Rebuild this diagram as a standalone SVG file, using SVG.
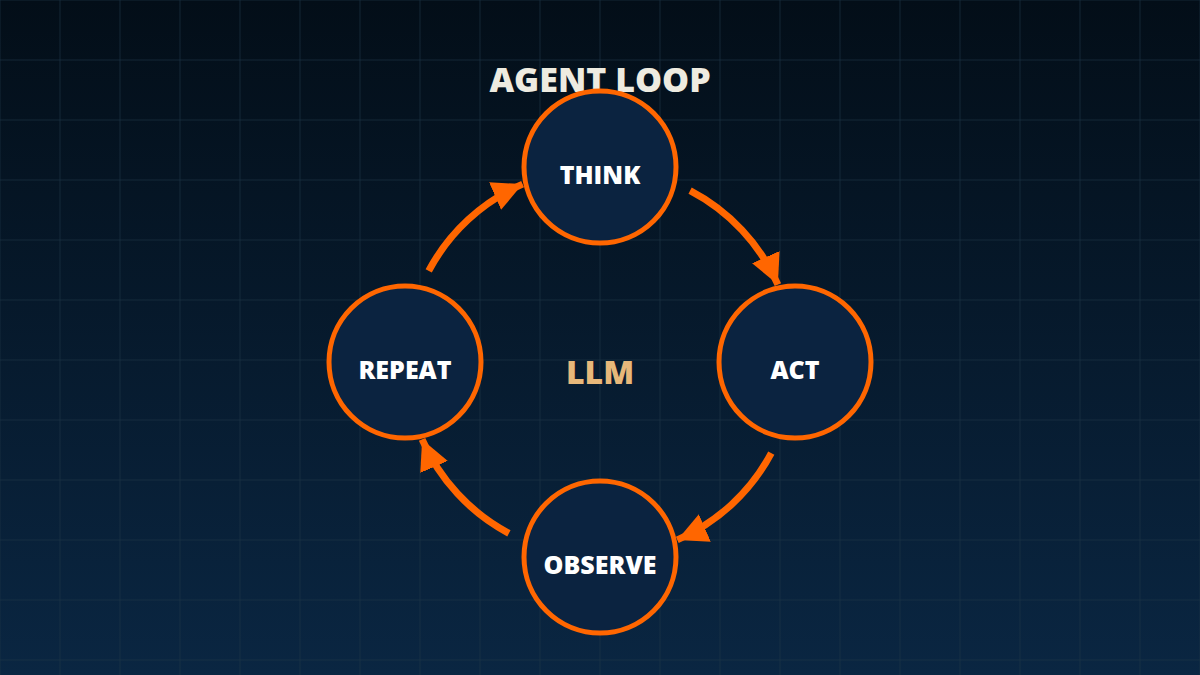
<svg xmlns="http://www.w3.org/2000/svg" width="1200" height="675" viewBox="0 0 1200 675">
<defs>
<linearGradient id="bg" x1="0" y1="0" x2="0" y2="1"><stop offset="0" stop-color="#030e18"/><stop offset="1" stop-color="#0a2642"/></linearGradient>
<pattern id="grid" width="60" height="60" patternUnits="userSpaceOnUse"><path d="M60 0V60M0 60H60M0 0V60M0 0H60" fill="none" stroke="#1c3346" stroke-width="1" opacity="0.6"/></pattern>
<marker id="ah" markerUnits="userSpaceOnUse" markerWidth="34" markerHeight="32" refX="30" refY="15" orient="auto"><path d="M0,0 L30,15 L0,30 Z" fill="#ff6600"/></marker>
<style>
.n{fill:#0b2340;stroke:#ff6600;stroke-width:5}
.t{font-family:"Open Sans","DejaVu Sans",sans-serif;font-weight:800;fill:#ffffff;font-size:25px;text-anchor:middle}
.c{fill:none;stroke:#ff6600;stroke-width:7;marker-end:url(#ah)}
</style>
</defs>
<rect width="1200" height="675" fill="url(#bg)"/>
<rect width="1200" height="675" fill="url(#grid)"/>
<text x="600" y="92" class="t" style="font-size:34px;fill:#eeebe0">AGENT LOOP</text>
<text x="600" y="384" class="t" style="font-size:32px;fill:#e8b87a">LLM</text>
<g id="connectors">
<path class="c" d="M428.7,270.9 A194,194 0 0 1 522.6,184.1"/>
<path class="c" d="M690.1,190.7 A194,194 0 0 1 777.9,284.6"/>
<path class="c" d="M771.3,453.1 A194,194 0 0 1 677.3,539.9"/>
<path class="c" d="M508.9,533.3 A194,194 0 0 1 422.1,439.4"/>
</g>
<g id="think"><circle class="n" cx="600" cy="167" r="76"/><text class="t" x="600" y="184">THINK</text></g>
<g id="act"><circle class="n" cx="795" cy="362" r="76"/><text class="t" x="795" y="379">ACT</text></g>
<g id="observe"><circle class="n" cx="600" cy="557" r="76"/><text class="t" x="600" y="574">OBSERVE</text></g>
<g id="repeat"><circle class="n" cx="405" cy="362" r="76"/><text class="t" x="405" y="379">REPEAT</text></g>
</svg>
